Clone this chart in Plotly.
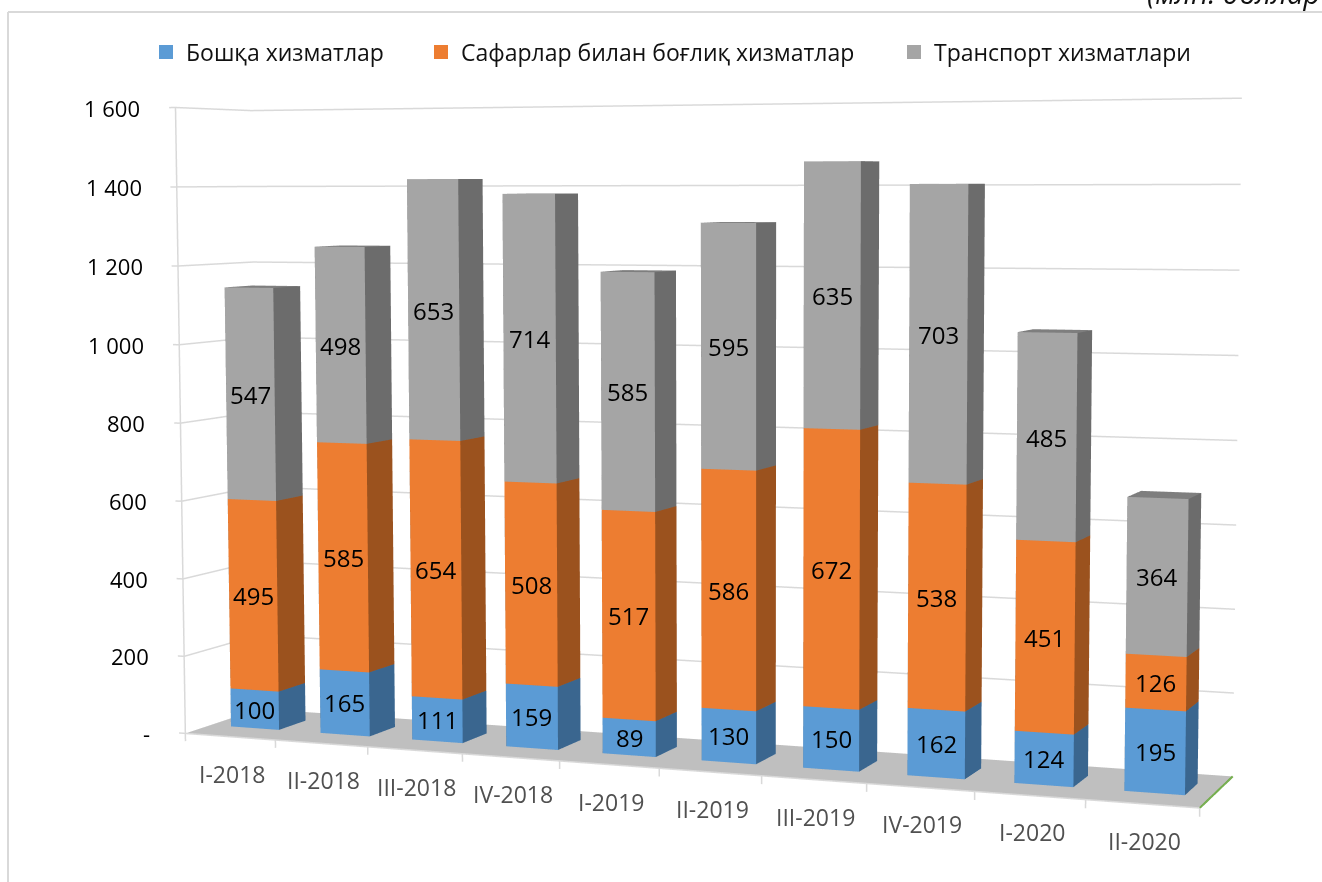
import numpy as np
import plotly.graph_objects as go

categories = ["I-2018","II-2018","III-2018","IV-2018","I-2019","II-2019","III-2019","IV-2019","I-2020","II-2020"]
other = [100,165,111,159,89,130,150,162,124,195]
travel = [495,585,654,508,517,586,672,538,451,126]
transport = [547,498,653,714,585,595,635,703,485,364]
series_names = ["Бошқа хизматлар","Сафарлар билан боғлиқ хизматлар","Транспорт хизматлари"]
z_ticks = [0,200,400,600,800,1000,1200,1400,1600]
z_labels = ["-","200","400","600","800","1 000","1 200","1 400","1 600"]

FONT = "Open Sans"
FRONT = ["#5B9BD5","#ED7D31","#A5A5A5"]
SIDE = ["#3A668F","#9B521E","#6C6C6C"]
TOP = ["#4A80B2","#C4671F","#7E7E7E"]
W = 0.27          # half bar width, in category units
DF, DB = -0.9, 1.8  # floor depth limits (bar occupies depth 0..1)
CL, CR = -0.5, 9.5

# camera calibration: (category, depth, value) -> page pixel
CAL = [
 (0-W,0,0,229,727),(0+W,0,0,279,731),(0+W,1,0,306,721),
 (0-W,0,100,229,689),(0+W,0,100,279,692),(0+W,1,100,306,683),
 (0-W,0,1142,223,287),(0+W,0,1142,273,287),(0+W,1,1142,301,286),
 (2-W,0,0,411,740),(2+W,0,0,463,743),(2+W,1,0,487,733),
 (2-W,0,1418,405,180),(2+W,0,1418,458,180),(2+W,1,1418,483,180),
 (4-W,0,0,601,753),(4+W,0,0,656,757),(4+W,1,0,677,748),
 (4-W,0,1191,600,271),(4+W,0,1191,655,271),(4+W,1,1191,677,271),
 (7-W,0,1403,909,184),(7+W,0,1403,970,184),(7+W,1,1403,986,184),
 (9-W,0,0,1123,791),(9+W,0,0,1185,795),(9+W,1,0,1197,783),
 (9-W,0,195,1124,708),(9+W,0,195,1187,712),(9+W,1,195,1198,702),
 (9-W,0,685,1127,497),(9+W,0,685,1190,500),(9+W,1,685,1200,493),
 (CL,DF,0,188,732),(CR,DF,0,1200,808),(CR,DB,0,1230,775),(CL,DB,0,260,708),
 (CL,DF,1600,178,106),(CL,DB,1600,250,111),(CR,DB,1600,1240,98),(CR,DB,200,1240,692),
]
CAL = np.array(CAL,float)
PW,PH = 1322,882
F = (PH/2)/np.tan(np.pi/8)
K = np.array([[F,0,PW/2],[0,-F,PH/2],[0,0,1.0]])

def fit_camera(cal):
    Sx = np.diag([0.1,1/3,1/1600,1.0]); Sp = np.diag([1e-3,1e-3,1.0])
    rows=[]
    for c,d,z,u,v in cal:
        X = Sx@np.array([c,d,z,1.0]); un,vn = u*1e-3,v*1e-3
        rows.append(np.r_[X,np.zeros(4),-un*X]); rows.append(np.r_[np.zeros(4),X,-vn*X])
    Pn = np.linalg.svd(np.array(rows))[2][-1].reshape(3,4)
    P = np.linalg.inv(Sp)@Pn@Sx
    if P[2]@np.array([5,0,500,1.0])<0: P=-P
    return P

P = fit_camera(CAL)
q = np.linalg.inv(K)@P[:,:3]; r = np.linalg.inv(K)@P[:,3]
AZ = 1.0
g = np.linalg.inv(q).T@np.array([0,0,1.0]); n = g/np.linalg.norm(g)
s = np.linalg.norm(g)*AZ/1600
c1 = q[:,0]-(q[:,0]@n)*n; c1/=np.linalg.norm(c1)
c2 = np.cross(c1,n)
T = np.column_stack([c1,c2,n])
A = s*T.T@q

corners = np.array([[a,b,0] for a in (CL,CR) for b in (DF,DB)],float)
wc = (A@corners.T).T
b = np.array([-(wc[:,0].max()+wc[:,0].min())/2,-(wc[:,1].max()+wc[:,1].min())/2,-AZ/2])
eye = b - s*T.T@r
fwd = T[2]; up = T[1]
center = eye+fwd*np.linalg.norm(eye)

def world(c,d,z):
    v = A@np.array([c,d,z],float)+b
    return float(v[0]),float(v[1]),float(z)

def box(cpos,z0,z1,cf,cs,ct):
    pts=[(cpos-W,0,z0),(cpos+W,0,z0),(cpos+W,1,z0),(cpos-W,1,z0),
         (cpos-W,0,z1),(cpos+W,0,z1),(cpos+W,1,z1),(cpos-W,1,z1)]
    w=[world(*p) for p in pts]
    i=[0,0,1,1,4,4,2,2,0,0,3,3]
    j=[1,5,2,6,5,6,3,7,3,7,0,1]
    k=[5,4,6,5,6,7,7,6,7,4,1,2]
    fc=[cf,cf,cs,cs,ct,ct,cs,cs,cs,cs,ct,ct]
    return go.Mesh3d(x=[p[0] for p in w],y=[p[1] for p in w],z=[p[2] for p in w],i=i,j=j,k=k,facecolor=fc,flatshading=True,
        lighting=dict(ambient=1,diffuse=0,specular=0,roughness=1,fresnel=0),hoverinfo="skip",showscale=False)

def lines(segs,color,width):
    xs,ys,zs=[],[],[]
    for p0,p1 in segs:
        for p in (p0,p1):
            x,y,z=world(*p); xs.append(x); ys.append(y); zs.append(z)
        xs.append(None); ys.append(None); zs.append(None)
    return go.Scatter3d(x=xs,y=ys,z=zs,mode="lines",line=dict(color=color,width=width),hoverinfo="skip",showlegend=False)

def label(c,d,z,text,size,color="#000000",xshift=0,yshift=0,xanchor="center"):
    x,y,zz=world(c,d,z)
    return dict(x=x,y=y,z=zz,text=text,showarrow=False,xanchor=xanchor,yanchor="middle",xshift=xshift,yshift=yshift,
                font=dict(family=FONT,size=size,color=color))

fig=go.Figure()
# floor
fl=[world(CL,DF,0),world(CR,DF,0),world(CR,DB,0),world(CL,DB,0)]
fig.add_trace(go.Mesh3d(x=[p[0] for p in fl],y=[p[1] for p in fl],z=[p[2] for p in fl],i=[0,0],j=[1,2],k=[2,3],color="#BFBFBF",
    lighting=dict(ambient=1,diffuse=0,specular=0),hoverinfo="skip"))
grid=[]
for t in z_ticks:
    if t>0:
        grid.append(((CL,DB,t),(CR,DB,t)))
        grid.append(((CL,DF,t),(CL,DB,t)))
    grid.append(((CL-0.07,DF,t),(CL,DF,t)))
grid.append(((CL,DF,0),(CL,DF,1600)))
for e in np.arange(CL,CR+0.5,1.0):
    grid.append(((e,DF,0),(e,DF,-20)))
grid.append(((CL,DF,0),(CR,DF,0)))
fig.add_trace(lines(grid,"#D9D9D9",3))
fig.add_trace(lines([((CR,DF,0),(CR,DB,0))],"#70AD47",4))

ann=[]
for c,cat in enumerate(categories):
    base=0
    for s_i,vals in enumerate([other,travel,transport]):
        v=vals[c]
        fig.add_trace(box(c,base,base+v,FRONT[s_i],SIDE[s_i],TOP[s_i]))
        ann.append(label(c,0,base+v/2,str(v),24))
        base+=v
    ann.append(label(c,DF,0,cat,23,color="#505050",xshift=2,yshift=-37))
for t,lab in zip(z_ticks,z_labels):
    ann.append(label(CL,DF,t,lab,22,xshift=-33,xanchor="right"))

for nm,col,lw in zip(series_names,FRONT,[230,428,None]):
    fig.add_trace(go.Scatter3d(x=[None],y=[None],z=[None],mode="markers",name=nm,legendwidth=lw,
        marker=dict(symbol="square",size=16,color=col,line=dict(color=col,width=4)),showlegend=True,hoverinfo="skip"))

R=6.0
fig.update_layout(
    width=PW,height=PH,margin=dict(l=0,r=0,t=0,b=0),paper_bgcolor="white",plot_bgcolor="white",
    font=dict(family=FONT,color="#111111"),
    legend=dict(orientation="h",x=146/PW,xanchor="left",y=1-52/PH,yanchor="middle",font=dict(size=23,color="#111111"),bgcolor="rgba(0,0,0,0)",itemsizing="constant"),
    scene=dict(
        domain=dict(x=[0,1],y=[0,1]),
        aspectmode="manual",aspectratio=dict(x=2*R,y=2*R,z=AZ*1.125),
        camera=dict(eye=dict(x=eye[0],y=eye[1],z=eye[2]),center=dict(x=center[0],y=center[1],z=center[2]),up=dict(x=up[0],y=up[1],z=up[2]),projection=dict(type="perspective")),
        xaxis=dict(range=[-R,R],visible=False,showspikes=False),
        yaxis=dict(range=[-R,R],visible=False,showspikes=False),
        zaxis=dict(range=[-100,1700],visible=False,showspikes=False),
        annotations=ann,
    ),
    shapes=[dict(type="line",xref="paper",yref="paper",x0=8/PW,x1=8/PW,y0=0,y1=1-12/PH,line=dict(color="#D9D9D9",width=2)),
            dict(type="line",xref="paper",yref="paper",x0=8/PW,x1=1,y0=1-12/PH,y1=1-12/PH,line=dict(color="#D9D9D9",width=2))],
    annotations=[dict(text="<i>(млн. доллар</i>",xref="paper",yref="paper",x=1,y=1,xanchor="right",yanchor="middle",yshift=8,showarrow=False,font=dict(size=29,color="#111111"))],
)
fig.write_html("out.html",config={"displayModeBar":False},post_script="document.body.style.margin='0';document.body.style.overflow='hidden';")
